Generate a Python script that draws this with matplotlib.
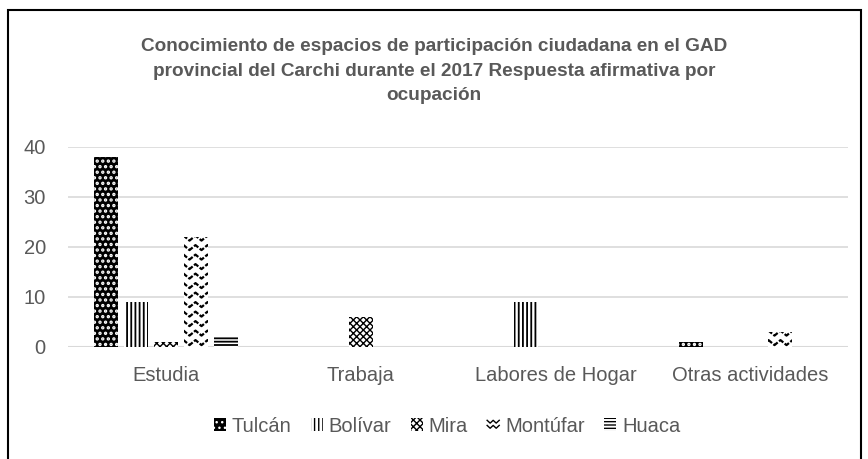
import matplotlib
matplotlib.use("Agg")
import matplotlib.pyplot as plt
import numpy as np
from matplotlib import font_manager
from matplotlib.patches import Patch, Rectangle
from matplotlib.lines import Line2D
from matplotlib.legend_handler import HandlerBase

categories = ["Estudia", "Trabaja", "Labores de Hogar", "Otras actividades"]
series_names = ["Tulcán", "Bolívar", "Mira", "Montúfar", "Huaca"]
tulcan = [38, 0, 0, 1]
bolivar = [9, 0, 9, 0]
mira = [1, 6, 0, 0]
montufar = [22, 0, 0, 3]
huaca = [2, 0, 0, 0]
values = [tulcan, bolivar, mira, montufar, huaca]
yticks = [0, 10, 20, 30, 40]
title = ("Conocimiento de espacios de participación ciudadana en el GAD\n"
         "provincial del Carchi durante el 2017 Respuesta afirmativa por\n"
         "ocupación")

avail = {f.name for f in font_manager.fontManager.ttflist}
narrow = "Liberation Sans Narrow" if "Liberation Sans Narrow" in avail else "Liberation Sans"
plt.rcParams['font.family'] = [narrow, 'DejaVu Sans']

GRAY = "#595959"
W, H = 868, 459
fig = plt.figure(figsize=(W / 100, H / 100), dpi=100)
ax = fig.add_axes([68 / W, 1 - 347 / H, 780 / W, 200 / H])

# outer border
fig.patches.append(Rectangle((8 / W, -0.05), (861 - 8) / W, 1.05 - 10 / H,
                             transform=fig.transFigure, fill=False,
                             edgecolor="black", linewidth=1.5))

x = np.arange(len(categories))
bw = 24 / 195
step = 30 / 195
offsets = (np.arange(5) - 2) * step

ax.set_xlim(-0.5, len(categories) - 0.5)
ax.set_ylim(0, 40)

styles = [
    dict(facecolor="black", edgecolor="white", hatch="...", lw=0, hlw=1.6),
    dict(facecolor="white", edgecolor="black", hatch="||||", lw=0, hlw=1.3),
    dict(facecolor="white", edgecolor="black", hatch="xxxxx", lw=0, hlw=1.0),
    dict(facecolor="white", edgecolor="white", hatch=None, lw=0, hlw=1.0),
    dict(facecolor="white", edgecolor="black", hatch="-----", lw=0, hlw=1.3),
]

bar_containers = []
for i, (vals, st) in enumerate(zip(values, styles)):
    with plt.rc_context({'hatch.linewidth': st['hlw']}):
        bc = ax.bar(x + offsets[i], vals, width=bw, facecolor=st['facecolor'],
                    edgecolor=st['edgecolor'], hatch=st['hatch'],
                    linewidth=st['lw'], zorder=3)
    bar_containers.append(bc)

# zigzag pattern for Montúfar
inv = ax.transData.inverted()
def px2data(dx, dy):
    p0 = inv.transform((0, 0))
    p1 = inv.transform((dx, dy))
    return p1[0] - p0[0], p1[1] - p0[1]

per_x, _ = px2data(12, 0)
_, amp_y = px2data(0, 5)
_, row_y = px2data(0, 9.5)
for patch in bar_containers[3].patches:
    h = patch.get_height()
    if h <= 0:
        continue
    x0 = patch.get_x()
    w = patch.get_width()
    xs = np.arange(x0 - per_x, x0 + w + per_x, per_x / 2)
    yb = row_y * 0.2
    while yb < h + row_y:
        ys = yb + np.where(np.arange(len(xs)) % 2 == 0, amp_y, 0)
        ln = Line2D(xs, ys, color="black", linewidth=1.6, zorder=4,
                    linestyle=(0, (2.5, 0.8)))
        ax.add_line(ln)
        ln.set_clip_path(patch)
        yb += row_y

ax.set_yticks(yticks)
ax.set_xticks(x)
ax.set_xticklabels(categories)
ax.tick_params(axis='both', length=0, labelsize=14.5, labelcolor=GRAY)
ax.tick_params(axis='y', pad=16)
ax.tick_params(axis='x', pad=14)
ax.grid(axis='y', color="#d9d9d9", linewidth=1.2, zorder=0)
ax.set_axisbelow(True)
for s in ax.spines.values():
    s.set_visible(False)
ax.axhline(0, color="#d9d9d9", linewidth=1.5, zorder=2)

fig.text(0.5, 1 - 71 / H, title, ha="center", va="center", fontsize=13.7,
         fontweight="bold", color=GRAY, linespacing=1.6)

class ZigzagHandler(HandlerBase):
    def create_artists(self, legend, orig_handle, xdescent, ydescent,
                       width, height, fontsize, trans):
        arts = []
        n = 4
        xs = np.linspace(-xdescent, -xdescent + width, n + 1)
        for yy in (0.2, 0.6):
            ys = [(yy + (0.22 if k % 2 == 0 else 0)) * height - ydescent for k in range(n + 1)]
            l = Line2D(xs, ys, color="black", linewidth=1.0, transform=trans)
            arts.append(l)
        return arts

handles = []
for i, st in enumerate(styles):
    if i == 3:
        handles.append(Line2D([], []))
    else:
        handles.append(Patch(facecolor=st['facecolor'], edgecolor=st['edgecolor'],
                             hatch=st['hatch'], linewidth=0))
leg = fig.legend(handles, series_names, loc="center", ncol=5,
                 bbox_to_anchor=(447 / W, 1 - 426 / H), frameon=False,
                 fontsize=14.5, handlelength=0.6, handleheight=0.6,
                 handletextpad=0.3, columnspacing=0.95,
                 handler_map={handles[3]: ZigzagHandler()})
for t in leg.get_texts():
    t.set_color(GRAY)

fig.savefig("out.png", dpi=100)
